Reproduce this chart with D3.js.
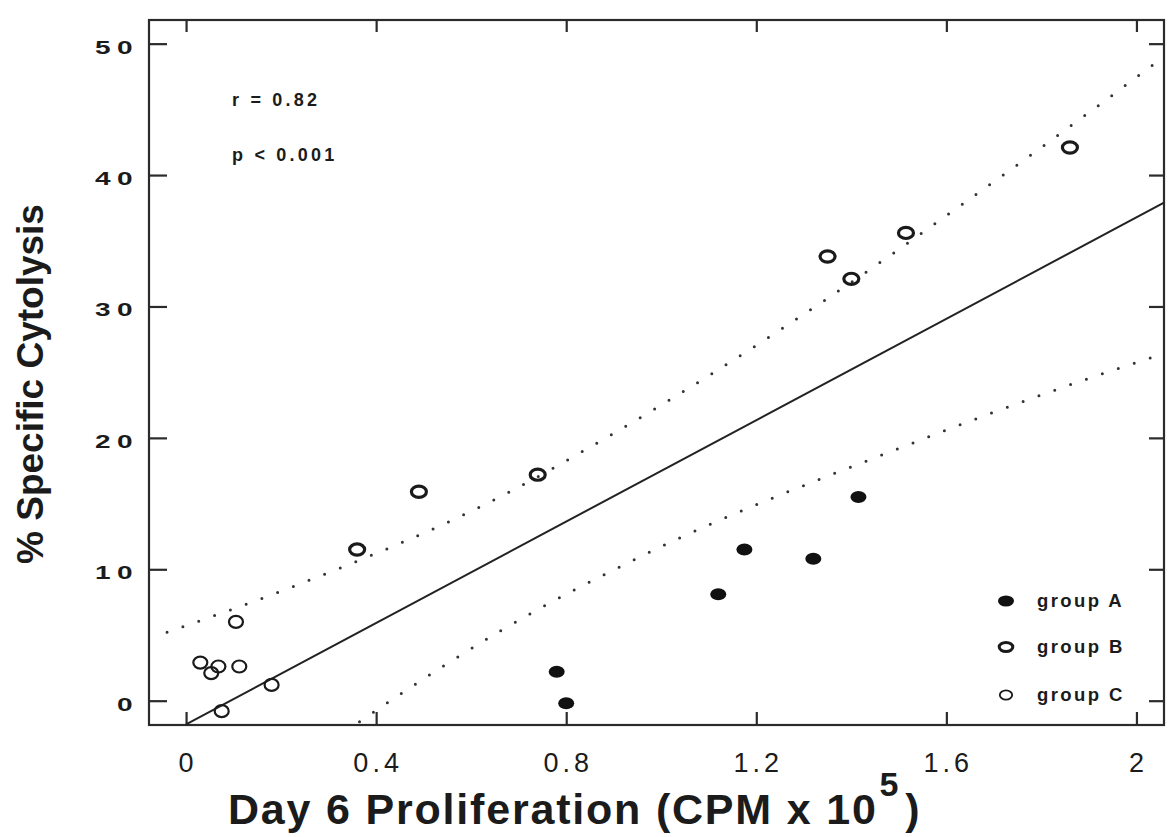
<!DOCTYPE html>
<meta charset="utf-8">
<script src="https://d3js.org/d3.v7.min.js"></script>
<style>
  body { margin: 0; background: #fff; }
  text { font-family: "Liberation Sans", Arial, Helvetica, sans-serif; fill: #1b1b1b; }
</style>
<div id="vis"></div>
<script type="text/javascript">

// ticks
var xTicks = [0, 0.4, 0.8, 1.2, 1.6, 2];
var xTickLabels = ["0", "0.4", "0.8", "1.2", "1.6", "2"];
var yTicks = [0, 10, 20, 30, 40, 50];
var yTickLabels = ["0", "10", "20", "30", "40", "50"];

// points [proliferation, % cytolysis]
var groupA = [[0.78, 2.2], [0.80, -0.2], [1.12, 8.1], [1.175, 11.5], [1.32, 10.8], [1.415, 15.5]];
var groupB = [[0.36, 11.5], [0.49, 15.9], [0.74, 17.2], [1.35, 33.8], [1.40, 32.1], [1.515, 35.6], [1.86, 42.1]];
var groupC = [[0.03, 2.9], [0.053, 2.1], [0.068, 2.6], [0.105, 6.0], [0.112, 2.6], [0.18, 1.2], [0.075, -0.8]];

// regression line and dotted bands
var fitLine = [[0, -1.8], [2.058, 37.9]];
var upperBand = [[-0.04, 5.2], [0.226, 8.7], [0.676, 15.8], [0.893, 20.2], [1.337, 30.3], [1.654, 38.3], [1.909, 45.0], [2.05, 48.8]];
var lowerBand = [[0.365, -1.6], [0.542, 2.65], [0.661, 5.3], [0.973, 11.26], [1.493, 19.1], [1.889, 24.4], [2.047, 26.3]];

var stats = ["r = 0.82", "p < 0.001"];
var legendNames = ["group A", "group B", "group C"];

var width = 1169, height = 837;

var svg = d3.select("#vis")
  .append("svg")
    .attr("width", width)
    .attr("height", height);

svg.append("rect").attr("width", width).attr("height", height).attr("fill", "#fff");

var x = d3.scaleLinear().domain([-0.078, 2.058]).range([149, 1164]);
var y = d3.scaleLinear().domain([-1.85, 51.8]).range([725, 20]);

var ink = "#222";

// frame
svg.append("rect")
  .attr("x", x.range()[0]).attr("y", y.range()[1])
  .attr("width", x.range()[1] - x.range()[0])
  .attr("height", y.range()[0] - y.range()[1])
  .attr("fill", "none").attr("stroke", "#2b2b2b").attr("stroke-width", 2.2);

// inward ticks on all four sides
function ticks(axis, tx, ty) {
  var g = svg.append("g").attr("transform", "translate(" + tx + "," + ty + ")").call(axis);
  g.select(".domain").remove();
  g.selectAll("line").attr("stroke", "#2b2b2b").attr("stroke-width", 2.2);
  g.selectAll("text").remove();
}
ticks(d3.axisLeft(y).tickValues(yTicks).tickSize(-18).tickSizeOuter(0), x.range()[0], 0);
ticks(d3.axisRight(y).tickValues(yTicks).tickSize(-15).tickSizeOuter(0), x.range()[1], 0);
ticks(d3.axisTop(x).tickValues(xTicks).tickSize(-12).tickSizeOuter(0), 0, y.range()[1]);
ticks(d3.axisBottom(x).tickValues(xTicks).tickSize(-13).tickSizeOuter(0), 0, y.range()[0]);

// y tick labels (wide, spaced face)
svg.append("g").selectAll("g").data(yTicks).enter().append("g")
  .attr("transform", d => "translate(139," + (y(d) + 10) + ") scale(1.6,1)")
  .append("text")
    .attr("text-anchor", "end")
    .style("font-size", "17.5px")
    .style("font-weight", "bold")
    .style("letter-spacing", "4px")
    .text((d, i) => yTickLabels[i]);

// x tick labels
svg.append("g").selectAll("text").data(xTicks).enter().append("text")
  .attr("x", d => x(d) + 2)
  .attr("y", 772)
  .attr("text-anchor", "middle")
  .style("font-size", "27px")
  .style("letter-spacing", "4px")
  .text((d, i) => xTickLabels[i]);

// dotted bands
var line = d3.line().x(d => x(d[0])).y(d => y(d[1])).curve(d3.curveMonotoneX);
[upperBand, lowerBand].forEach(band => {
  svg.append("path")
    .datum(band)
    .attr("fill", "none")
    .attr("stroke", "#333")
    .attr("stroke-width", 3)
    .attr("stroke-linecap", "round")
    .attr("stroke-dasharray", "0 16.8")
    .attr("d", line);
});

// regression line
svg.append("path")
  .datum(fitLine)
  .attr("fill", "none")
  .attr("stroke", ink)
  .attr("stroke-width", 2)
  .attr("d", d3.line().x(d => x(d[0])).y(d => y(d[1])));

// markers
function markers(data, style) {
  svg.append("g").selectAll("ellipse").data(data).enter().append("ellipse")
    .attr("cx", d => x(d[0]))
    .attr("cy", d => y(d[1]))
    .attr("rx", style.rx)
    .attr("ry", style.ry)
    .attr("fill", style.fill)
    .attr("stroke", style.stroke)
    .attr("stroke-width", style.sw);
}
var styleA = {rx: 8, ry: 6, fill: "#111", stroke: "none", sw: 0};
var styleB = {rx: 7.5, ry: 5.6, fill: "none", stroke: "#1a1a1a", sw: 3.2};
var styleC = {rx: 7, ry: 6, fill: "none", stroke: "#1a1a1a", sw: 2.2};
markers(groupA, styleA);
markers(groupB, styleB);
markers(groupC, styleC);

// stats
svg.append("g").selectAll("text").data(stats).enter().append("text")
  .attr("x", 232)
  .attr("y", (d, i) => 106 + i * 55)
  .style("font-size", "18px")
  .style("font-weight", "bold")
  .style("letter-spacing", "3.2px")
  .style("white-space", "pre")
  .text(d => d);

// legend
var legendY = [601, 647, 695];
var legendStyles = [
  {rx: 8, ry: 5.5, fill: "#111", stroke: "none", sw: 0},
  {rx: 6.8, ry: 4.6, fill: "none", stroke: "#1a1a1a", sw: 3},
  {rx: 6.2, ry: 4.6, fill: "none", stroke: "#1a1a1a", sw: 1.8}
];
legendNames.forEach((name, i) => {
  var s = legendStyles[i];
  svg.append("ellipse")
    .attr("cx", 1006).attr("cy", legendY[i])
    .attr("rx", s.rx).attr("ry", s.ry)
    .attr("fill", s.fill).attr("stroke", s.stroke).attr("stroke-width", s.sw);
  svg.append("text")
    .attr("x", 1037).attr("y", legendY[i] + 6)
    .style("font-size", "18.5px")
    .style("font-weight", "bold")
    .style("letter-spacing", "2.4px")
    .text(name);
});

// axis titles
svg.append("text")
  .attr("transform", "translate(43,384) rotate(-90)")
  .attr("text-anchor", "middle")
  .style("font-size", "37px")
  .style("font-weight", "bold")
  .text("% Specific Cytolysis");

var xt = svg.append("text")
  .attr("x", 228)
  .attr("y", 824)
  .style("font-size", "43px")
  .style("font-weight", "bold")
  .style("letter-spacing", "1.8px");
xt.append("tspan").text("Day 6 Proliferation (CPM x 10");
xt.append("tspan").attr("dx", 2).attr("dy", -28).style("font-size", "34px").text("5");
xt.append("tspan").attr("dx", 5).attr("dy", 28).text(")");

</script>
